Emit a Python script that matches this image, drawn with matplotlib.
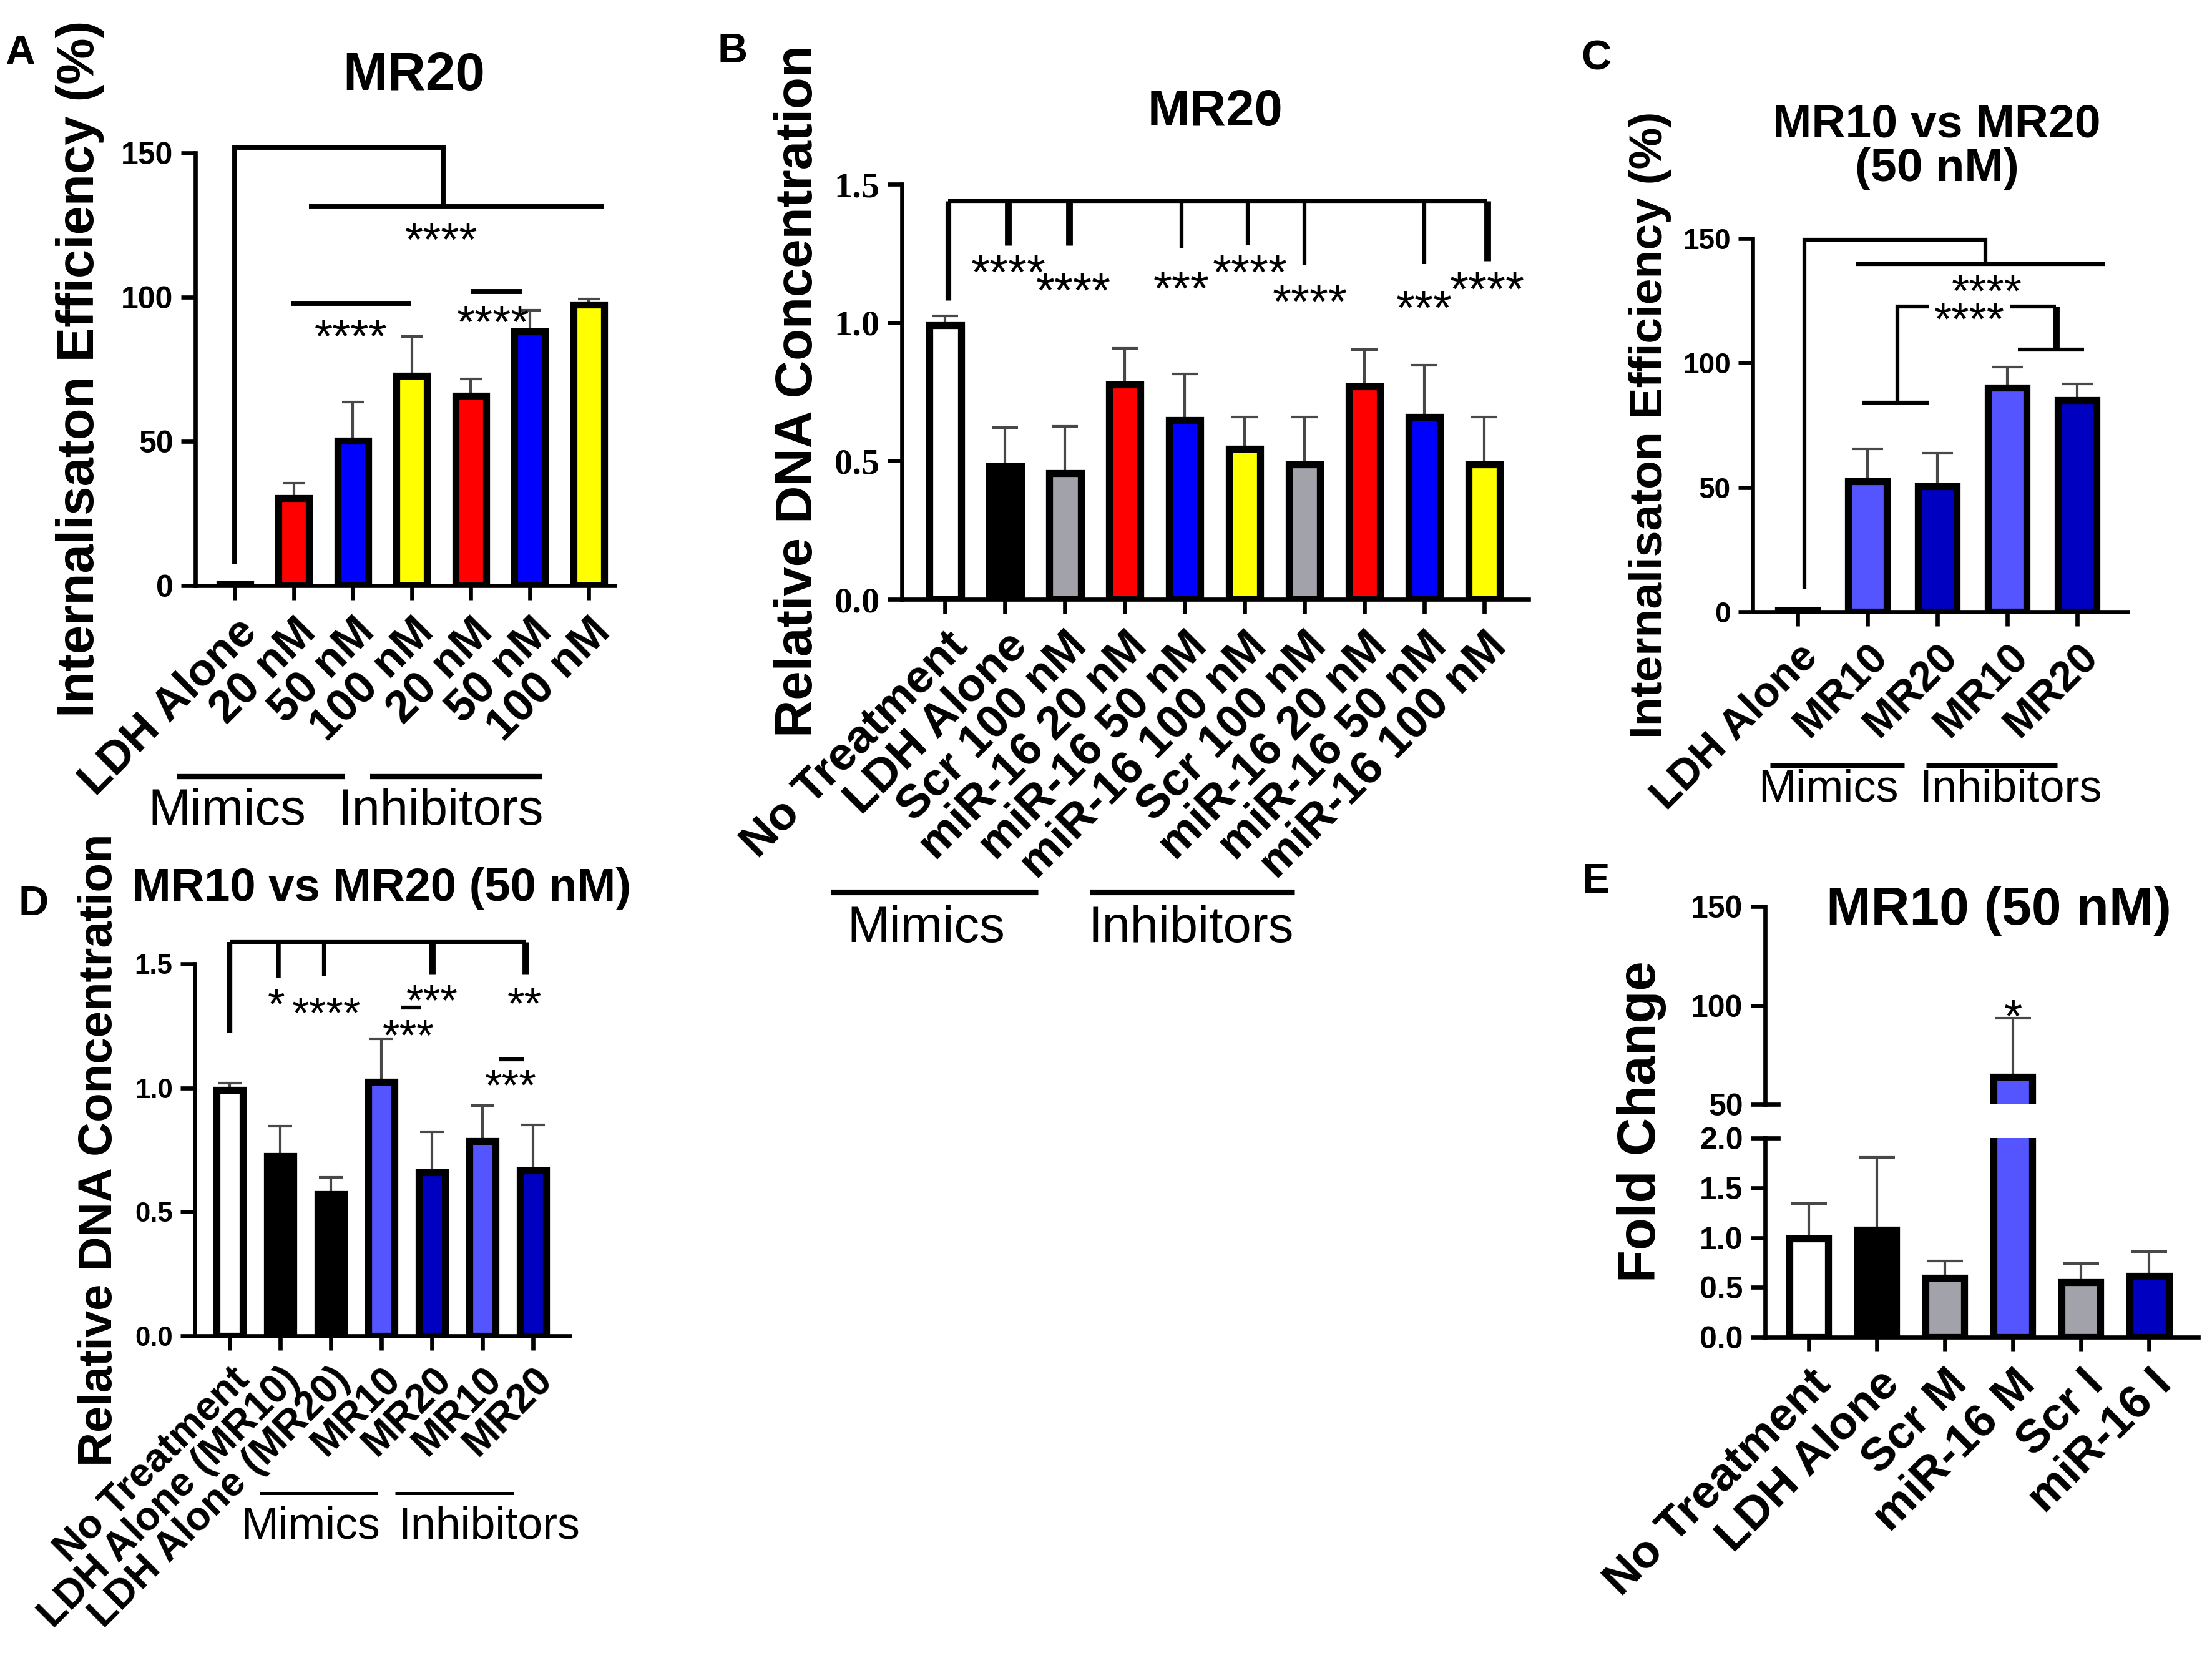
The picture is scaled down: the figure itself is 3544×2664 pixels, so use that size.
import numpy as np
import matplotlib
matplotlib.use('Agg')
import matplotlib.pyplot as plt
from matplotlib.lines import Line2D
from matplotlib.transforms import offset_copy

plt.rcParams['font.family'] = ['Liberation Sans', 'DejaVu Sans']

W, H, DPI = 3544, 2664, 300

# ---- data ----
# A: MR20 internalisation efficiency (%)
a_labels = ['LDH Alone', '20 nM', '50 nM', '100 nM', '20 nM', '50 nM', '100 nM']
a_mean = [0.5, 30.2, 50.3, 72.7, 65.8, 88.1, 97.3]
a_sem = [0.0, 5.2, 13.4, 13.6, 5.9, 7.3, 2.0]

# B: MR20 relative DNA concentration
b_labels = ['No Treatment', 'LDH Alone', 'Scr 100 nM', 'miR-16 20 nM', 'miR-16 50 nM',
            'miR-16 100 nM', 'Scr 100 nM', 'miR-16 20 nM', 'miR-16 50 nM', 'miR-16 100 nM']
b_mean = [0.99, 0.48, 0.455, 0.777, 0.648, 0.544, 0.487, 0.77, 0.659, 0.487]
b_sem = [0.035, 0.14, 0.17, 0.13, 0.166, 0.115, 0.172, 0.133, 0.186, 0.172]

# C: MR10 vs MR20 (50 nM) internalisation efficiency (%)
c_labels = ['LDH Alone', 'MR10', 'MR20', 'MR10', 'MR20']
c_mean = [0.5, 52.3, 50.4, 90.0, 85.1]
c_sem = [0.0, 13.1, 13.2, 8.4, 6.4]

# D: MR10 vs MR20 (50 nM) relative DNA concentration
d_labels = ['No Treatment', 'LDH Alone (MR10)', 'LDH Alone (MR20)', 'MR10', 'MR20', 'MR10', 'MR20']
d_mean = [0.992, 0.726, 0.572, 1.024, 0.659, 0.784, 0.668]
d_sem = [0.028, 0.119, 0.067, 0.174, 0.163, 0.144, 0.183]

# E: MR10 (50 nM) fold change
e_labels = ['No Treatment', 'LDH Alone', 'Scr M', 'miR-16 M', 'Scr I', 'miR-16 I']
e_mean = [0.99, 1.08, 0.595, 63.8, 0.553, 0.616]
e_sem = [0.35, 0.725, 0.168, 29.8, 0.184, 0.242]

RED, BLUE, YEL = '#ff0000', '#0000ff', '#ffff00'
GREY = '#a2a2aa'
MBLUE, DBLUE = '#5555ff', '#0000c0'
a_colors = ['white', RED, BLUE, YEL, RED, BLUE, YEL]
b_colors = ['white', 'black', GREY, RED, BLUE, YEL, GREY, RED, BLUE, YEL]
c_colors = ['white', MBLUE, DBLUE, MBLUE, DBLUE]
d_colors = ['white', 'black', 'black', MBLUE, DBLUE, MBLUE, DBLUE]
e_colors = ['white', 'black', GREY, MBLUE, GREY, DBLUE]

fig = plt.figure(figsize=(W / DPI, H / DPI), dpi=DPI)


def add_ax(x0, x1, ytop, ybot):
    # axes placed in pixel coords of the full image
    return fig.add_axes([x0 / W, 1 - ybot / H, (x1 - x0) / W, (ybot - ytop) / H])


def ftext(x, y, s, **kw):
    fig.text(x / W, 1 - y / H, s, **kw)


def fline(x0, x1, y, lw):
    fig.add_artist(Line2D([x0 / W, x1 / W], [1 - y / H, 1 - y / H], color='black',
                          lw=lw, transform=fig.transFigure, solid_capstyle='butt'))


def bars(ax, mean, sem, colors, xlim, ylim, width, capsize):
    x = np.arange(len(mean))
    ax.bar(x, mean, width=width, color=colors, edgecolor='black', linewidth=2.7, zorder=2)
    ax.errorbar(x, mean, yerr=[np.zeros(len(sem)), sem], fmt='none', ecolor='#484848',
                elinewidth=1.0, capsize=capsize, capthick=1.0, zorder=1)
    ax.set_xlim(*xlim)
    ax.set_ylim(*ylim)
    for s in ['top', 'right']:
        ax.spines[s].set_visible(False)
    for s in ['left', 'bottom']:
        ax.spines[s].set_linewidth(1.6)
    ax.tick_params(direction='out', length=5.5, width=1.6, pad=3)
    ax.tick_params(axis='x', pad=4)
    ax.set_xticks(x)
    return x


def xlabels(ax, labels, size):
    ax.set_xticklabels(labels, rotation=45, ha='right', va='top', rotation_mode='anchor',
                       fontsize=size, fontweight='bold')


def ylabels(ax, ticks, fmt, size, family=None):
    ax.set_yticks(ticks)
    kw = {}
    if family:
        kw['family'] = family
    ax.set_yticklabels([fmt.format(t) for t in ticks], fontsize=size, fontweight='bold', **kw)


def path(ax, xs, ys, lw=1.7):
    ax.plot(xs, ys, color='black', lw=lw, clip_on=False, solid_capstyle='butt',
            solid_joinstyle='miter', zorder=4)


def stars(ax, x, y, s, size):
    tr = offset_copy(ax.transData, fig=fig, y=-0.58 * size, units='points')
    ax.text(x, y, s, transform=tr, ha='center', va='baseline', fontsize=size,
            clip_on=False, zorder=5)


# ---------------- A ----------------
ax = add_ax(313, 985, 245, 938)
bars(ax, a_mean, a_sem, a_colors, (-0.67, 6.44), (0, 150), 0.52, 4.2)
ylabels(ax, [0, 50, 100, 150], '{:.0f}', 12)
xlabels(ax, a_labels, 17.5)
path(ax, [0, 0, 3.53, 3.53], [7.5, 151.9, 151.9, 131.4], 1.9)
path(ax, [1.26, 6.25], [131.4, 131.4], 1.9)
stars(ax, 3.5, 124, '****', 18)
path(ax, [0.96, 2.99], [97.8, 97.8], 1.9)
stars(ax, 1.97, 90.4, '****', 18)
path(ax, [4.01, 4.86], [101.9, 101.9], 1.9)
stars(ax, 4.38, 95.4, '****', 18)
ftext(128, 591, 'Internalisaton Efficiency (%)', rotation=90, ha='center', va='center',
      fontsize=20, fontweight='bold')
ftext(663, 122, 'MR20', ha='center', va='center', fontsize=20.5, fontweight='bold')
ftext(32, 86, 'A', ha='center', va='center', fontsize=16, fontweight='bold')
fline(284, 552, 1244, 2.0)
fline(593, 868, 1244, 2.0)
ftext(364, 1300, 'Mimics', ha='center', va='center', fontsize=19.5)
ftext(706, 1300, 'Inhibitors', ha='center', va='center', fontsize=19.5)

# ---------------- B ----------------
ax = add_ax(1445, 2449, 295, 960)
bars(ax, b_mean, b_sem, b_colors, (-0.72, 9.74), (0, 1.5), 0.53, 5)
ylabels(ax, [0, 0.5, 1.0, 1.5], '{:.1f}', 14, family='Liberation Serif')
xlabels(ax, b_labels, 18)
path(ax, [0.05, 0.05], [1.08, 1.44], 2.2)
path(ax, [0.05, 9.05], [1.44, 1.44], 1.5)
for xd, yd, lw in [(1.05, 1.279, 2.6), (2.07, 1.279, 2.6), (3.95, 1.268, 1.5), (5.05, 1.279, 1.5),
                   (6.0, 1.208, 1.5), (8.0, 1.212, 1.5), (9.05, 1.223, 2.6)]:
    path(ax, [xd, xd], [1.44, yd], lw)
for xs, ys, s in [(1.06, 1.223, '****'), (2.14, 1.157, '****'), (3.94, 1.164, '***'),
                  (5.09, 1.223, '****'), (6.09, 1.117, '****'), (8.0, 1.095, '***'),
                  (9.05, 1.161, '****')]:
    stars(ax, xs, ys, s, 18.5)
ftext(1279, 627, 'Relative DNA Concentration', rotation=90, ha='center', va='center',
      fontsize=20, fontweight='bold')
ftext(1947, 180, 'MR20', ha='center', va='center', fontsize=19.5, fontweight='bold')
ftext(1174, 83, 'B', ha='center', va='center', fontsize=16, fontweight='bold')
fline(1331, 1663, 1429, 2.2)
fline(1746, 2074, 1429, 2.2)
ftext(1484, 1488, 'Mimics', ha='center', va='center', fontsize=19.5)
ftext(1908, 1488, 'Inhibitors', ha='center', va='center', fontsize=19.5)

# ---------------- C ----------------
ax = add_ax(2808, 3409, 382, 980)
bars(ax, c_mean, c_sem, c_colors, (-0.64, 4.72), (0, 150), 0.55, 6)
ylabels(ax, [0, 50, 100, 150], '{:.0f}', 11)
xlabels(ax, c_labels, 16.4)
path(ax, [0.1, 0.1, 2.69, 2.69], [9, 149.6, 149.6, 139.7], 1.5)
path(ax, [0.83, 4.4], [139.7, 139.7], 1.5)
stars(ax, 2.71, 133.4, '****', 17.5)
path(ax, [0.92, 1.875], [84, 84], 1.5)
path(ax, [1.43, 1.43, 1.875], [84, 122.6, 122.6], 1.5)
path(ax, [3.04, 3.69], [122.6, 122.6], 1.5)
path(ax, [3.69, 3.69], [122.6, 105.4], 2.6)
path(ax, [3.15, 4.1], [105.4, 105.4], 1.5)
stars(ax, 2.46, 122.0, '****', 17.5)
ftext(2643, 681, 'Internalisaton Efficiency (%)', rotation=90, ha='center', va='center',
      fontsize=18, fontweight='bold')
ftext(3103, 235, 'MR10 vs MR20\n(50 nM)', ha='center', va='center', fontsize=18,
      fontweight='bold', linespacing=1.02)
ftext(2557, 94, 'C', ha='center', va='center', fontsize=16, fontweight='bold')
fline(2836, 3051, 1226, 1.7)
fline(3086, 3296, 1226, 1.7)
ftext(2929, 1265, 'Mimics', ha='center', va='center', fontsize=17.3)
ftext(3222, 1265, 'Inhibitors', ha='center', va='center', fontsize=17.3)

# ---------------- D ----------------
ax = add_ax(312, 913, 1544, 2140)
bars(ax, d_mean, d_sem, d_colors, (-0.69, 6.73), (0, 1.5), 0.52, 4.5)
ylabels(ax, [0, 0.5, 1.0, 1.5], '{:.1f}', 10.5)
xlabels(ax, d_labels, 15.5)
path(ax, [0, 0], [1.221, 1.587], 2.0)
path(ax, [0, 5.85], [1.587, 1.587], 1.5)
for xd, yd, lw in [(0.96, 1.444, 1.8), (1.86, 1.452, 1.5), (4.0, 1.458, 2.6), (5.85, 1.458, 2.6)]:
    path(ax, [xd, xd], [1.587, yd], lw)
for xs, ys, s in [(0.92, 1.381, '*'), (1.92, 1.346, '****'), (4.0, 1.396, '***'),
                  (5.83, 1.385, '**'), (3.54, 1.256, '***'), (5.56, 1.053, '***')]:
    stars(ax, xs, ys, s, 17)
path(ax, [3.4, 3.79], [1.323, 1.323], 1.5)
path(ax, [5.33, 5.83], [1.115, 1.115], 1.5)
ftext(160, 1842, 'Relative DNA Concentration', rotation=90, ha='center', va='center',
      fontsize=18.3, fontweight='bold')
ftext(612, 1423, 'MR10 vs MR20 (50 nM)', ha='center', va='center', fontsize=17.8,
      fontweight='bold')
ftext(54, 1449, 'D', ha='center', va='center', fontsize=16, fontweight='bold')
fline(416, 605, 2392, 1.2)
fline(633, 823, 2392, 1.2)
ftext(497, 2446, 'Mimics', ha='center', va='center', fontsize=17.2)
ftext(784, 2446, 'Inhibitors', ha='center', va='center', fontsize=17.2)

# ---------------- E (broken y axis) ----------------
ax_up = add_ax(2828, 3522, 1452, 1769)
ax_lo = add_ax(2828, 3522, 1823, 2142)
bars(ax_up, e_mean, e_sem, e_colors, (-0.64, 5.72), (50, 150), 0.57, 7)
bars(ax_lo, e_mean, e_sem, e_colors, (-0.64, 5.72), (0, 2), 0.57, 7)
ax_up.spines['bottom'].set_visible(False)
ax_up.tick_params(axis='x', bottom=False, labelbottom=False)
ylabels(ax_up, [50, 100, 150], '{:.0f}', 12)
ylabels(ax_lo, [0, 0.5, 1.0, 1.5, 2.0], '{:.1f}', 12)
xlabels(ax_lo, e_labels, 18)
for a, yy in [(ax_up, 0), (ax_lo, 1)]:
    a.plot([0, 0.03], [yy, yy], color='black', lw=1.6, transform=a.transAxes, clip_on=False)
stars(ax_up, 3, 100.5, '*', 18)
ftext(2630, 1797, 'Fold Change', rotation=90, ha='center', va='center', fontsize=20.4,
      fontweight='bold')
ftext(3202, 1459, 'MR10 (50 nM)', ha='center', va='center', fontsize=20.6, fontweight='bold')
ftext(2557, 1413, 'E', ha='center', va='center', fontsize=16, fontweight='bold')

fig.savefig('out.png', dpi=DPI)
